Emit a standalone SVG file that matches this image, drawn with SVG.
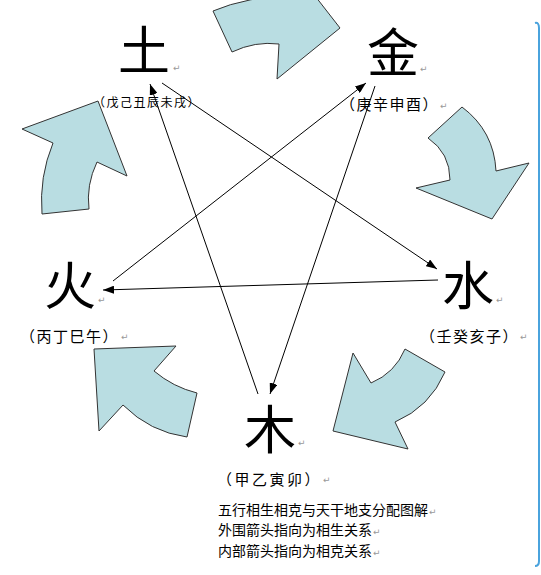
<svg xmlns="http://www.w3.org/2000/svg" width="541" height="575" viewBox="0 0 541 575">
<style>
.blk{fill:#b9dde2;stroke:#333;stroke-width:1;stroke-linejoin:miter}
.big{font-family:"Noto Sans CJK SC","Noto Sans CJK JP",sans-serif;font-size:52px;fill:#000;text-anchor:middle}
.lab{font-family:"Noto Sans CJK SC","Noto Sans CJK JP",sans-serif;font-size:15px;letter-spacing:1.5px;fill:#000}
.cap{font-family:"Noto Sans CJK SC","Noto Sans CJK JP",sans-serif;font-size:14px;fill:#000}
.ret{font-family:"DejaVu Sans",sans-serif;font-size:9px;letter-spacing:0;fill:#999}
.con{stroke:#000;stroke-width:1;fill:none;marker-end:url(#ah)}
</style>
<defs>
<marker id="ah" markerUnits="userSpaceOnUse" markerWidth="11" markerHeight="8" refX="11" refY="4" orient="auto">
<path d="M0,0 L11,4 L0,8 z" fill="#000"/>
</marker>
</defs>
<rect width="541" height="575" fill="#fff"/>
<path d="M535,23 Q539,22 539,28 L539,561 Q539,566 535,566" fill="none" stroke="#4aa3dd" stroke-width="2"/>

<g id="sheng-arrows">
<path id="arrow-tu-jin" class="blk" d="M213,11 Q245,-3 300,-6 L312,-8 L340,28 L277,79 L279,44 Q255,41 232,52 Z"/>
<path id="arrow-jin-shui" class="blk" d="M462,107 Q494,131 496,171 L529,163 L492,219 L416,188 L450,180 Q450,153 428,138 Z"/>
<path id="arrow-shui-mu" class="blk" d="M405,349 L445,372 Q430,407 395,422 L408,449 L333,431 L353,353 L371,383 Q395,373 405,349 Z"/>
<path id="arrow-mu-huo" class="blk" d="M94,349 L176,346 L154,371 Q173,387 197,393 L187,437 Q150,432 123,405 L99,431 Z"/>
<path id="arrow-huo-tu" class="blk" d="M98,101 L127,176 L97,162 Q86,185 89,209 L42,214 Q39,177 53,143 L22,129 Z"/>
</g>

<g id="connectors">
<line class="con" x1="162" y1="83" x2="437" y2="269"/>
<line class="con" x1="258" y1="394" x2="150" y2="84"/>
<line class="con" x1="375" y1="86" x2="270" y2="394"/>
<line class="con" x1="438" y1="280" x2="103" y2="290"/>
<line class="con" x1="113" y1="281" x2="366" y2="83"/>
</g>

<g id="node-tu">
<text class="big" x="144" y="70">土</text>
<text class="ret" x="173" y="71">↵</text>
<text class="lab" x="93" y="107" style="font-size:12px">（戊己丑辰未戌）</text>
</g>
<g id="node-jin">
<text class="big" x="393" y="72">金</text>
<text class="ret" x="420" y="72">↵</text>
<text class="lab" x="340" y="110">（庚辛申酉）</text>
<text class="ret" x="440" y="109">↵</text>
</g>
<g id="node-huo">
<text class="big" x="70" y="305">火</text>
<text class="ret" x="98" y="303">↵</text>
<text class="lab" x="20" y="342">（丙丁巳午）</text>
<text class="ret" x="121" y="340">↵</text>
</g>
<g id="node-shui">
<text class="big" x="468" y="305">水</text>
<text class="ret" x="496" y="303">↵</text>
<text class="lab" x="420" y="342">（壬癸亥子）</text>
<text class="ret" x="520" y="340">↵</text>
</g>
<g id="node-mu">
<text class="big" x="270" y="449">木</text>
<text class="ret" x="298" y="446">↵</text>
<text class="lab" x="217" y="485" style="letter-spacing:2.5px">（甲乙寅卯）</text>
<text class="ret" x="323" y="483">↵</text>
</g>

<g id="caption">
<text class="cap" x="218" y="515">五行相生相克与天干地支分配图解<tspan class="ret" dx="1">↵</tspan></text>
<text class="cap" x="218" y="535">外围箭头指向为相生关系<tspan class="ret" dx="1">↵</tspan></text>
<text class="cap" x="218" y="556">内部箭头指向为相克关系<tspan class="ret" dx="1">↵</tspan></text>
</g>
</svg>
